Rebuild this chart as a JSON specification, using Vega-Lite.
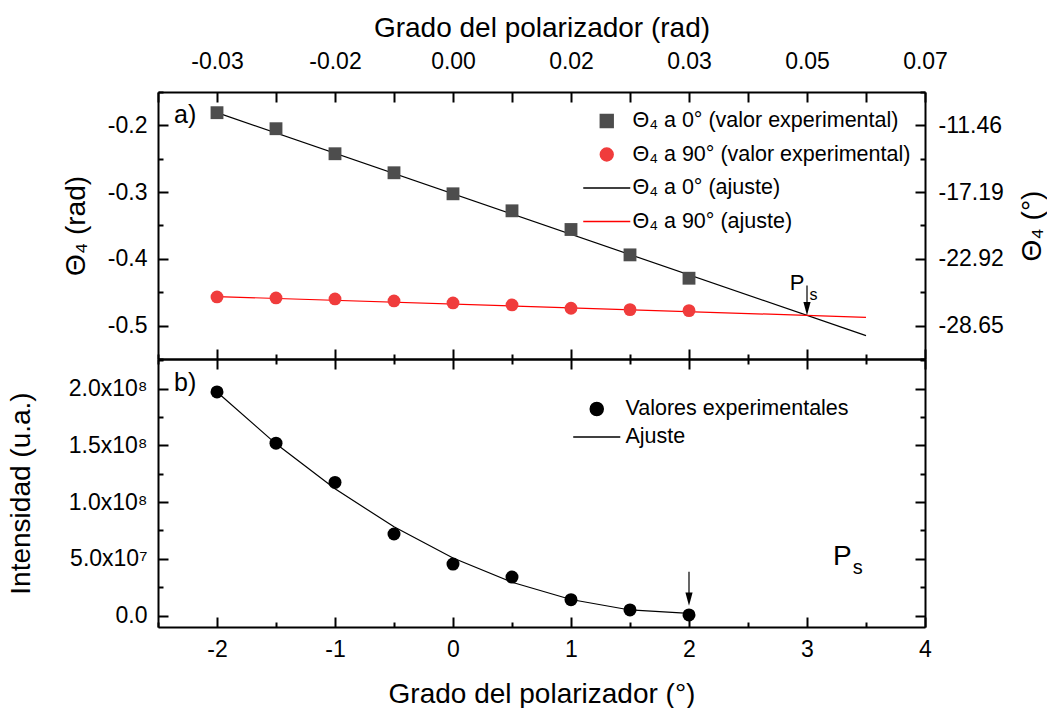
{
  "$schema": "https://vega.github.io/schema/vega-lite/v6.json",
  "background": "white",
  "padding": {"left": 7, "top": 14, "right": 0, "bottom": 0},
  "spacing": 0,
  "bounds": "flush",
  "config": {
    "font": "Liberation Sans",
    "view": {"stroke": null},
    "axis": {
      "grid": false,
      "domainColor": "black",
      "domainWidth": 2,
      "tickColor": "black",
      "tickWidth": 2,
      "labelFont": "Liberation Sans",
      "labelFontSize": 23,
      "labelColor": "black",
      "labelFlush": false,
      "labelOverlap": false,
      "titleFont": "Liberation Sans",
      "titleFontSize": 28,
      "titleFontWeight": "normal",
      "titleColor": "black"
    },
    "legend": {
      "labelFont": "Liberation Sans",
      "labelFontSize": 21.5,
      "labelColor": "black",
      "labelLimit": 500,
      "padding": 0
    }
  },
  "datasets": {
    "theta_exp": [
      {"grado": -2.0, "theta": -0.181, "serie": "Θ₄ a 0° (valor experimental)"},
      {"grado": -1.5, "theta": -0.205, "serie": "Θ₄ a 0° (valor experimental)"},
      {"grado": -1.0, "theta": -0.2425, "serie": "Θ₄ a 0° (valor experimental)"},
      {"grado": -0.5, "theta": -0.271, "serie": "Θ₄ a 0° (valor experimental)"},
      {"grado": 0.0, "theta": -0.3025, "serie": "Θ₄ a 0° (valor experimental)"},
      {"grado": 0.5, "theta": -0.328, "serie": "Θ₄ a 0° (valor experimental)"},
      {"grado": 1.0, "theta": -0.356, "serie": "Θ₄ a 0° (valor experimental)"},
      {"grado": 1.5, "theta": -0.394, "serie": "Θ₄ a 0° (valor experimental)"},
      {"grado": 2.0, "theta": -0.429, "serie": "Θ₄ a 0° (valor experimental)"},
      {"grado": -2.0, "theta": -0.457, "serie": "Θ₄ a 90° (valor experimental)"},
      {"grado": -1.5, "theta": -0.4585, "serie": "Θ₄ a 90° (valor experimental)"},
      {"grado": -1.0, "theta": -0.46, "serie": "Θ₄ a 90° (valor experimental)"},
      {"grado": -0.5, "theta": -0.463, "serie": "Θ₄ a 90° (valor experimental)"},
      {"grado": 0.0, "theta": -0.466, "serie": "Θ₄ a 90° (valor experimental)"},
      {"grado": 0.5, "theta": -0.469, "serie": "Θ₄ a 90° (valor experimental)"},
      {"grado": 1.0, "theta": -0.474, "serie": "Θ₄ a 90° (valor experimental)"},
      {"grado": 1.5, "theta": -0.476, "serie": "Θ₄ a 90° (valor experimental)"},
      {"grado": 2.0, "theta": -0.4775, "serie": "Θ₄ a 90° (valor experimental)"}
    ],
    "theta_fit": [
      {"grado": -2.0, "theta": -0.181, "serie": "Θ₄ a 0° (ajuste)"},
      {"grado": 3.5, "theta": -0.515, "serie": "Θ₄ a 0° (ajuste)"},
      {"grado": -2.0, "theta": -0.4565, "serie": "Θ₄ a 90° (ajuste)"},
      {"grado": 3.5, "theta": -0.4875, "serie": "Θ₄ a 90° (ajuste)"}
    ],
    "intensidad": [
      {"grado": -2.0, "valor": 197000000, "serie": "Valores experimentales"},
      {"grado": -1.5, "valor": 151900000, "serie": "Valores experimentales"},
      {"grado": -1.0, "valor": 117300000, "serie": "Valores experimentales"},
      {"grado": -0.5, "valor": 71900000, "serie": "Valores experimentales"},
      {"grado": 0.0, "valor": 45400000, "serie": "Valores experimentales"},
      {"grado": 0.5, "valor": 34000000, "serie": "Valores experimentales"},
      {"grado": 1.0, "valor": 14100000, "serie": "Valores experimentales"},
      {"grado": 1.5, "valor": 5000000, "serie": "Valores experimentales"},
      {"grado": 2.0, "valor": 600000, "serie": "Valores experimentales"}
    ],
    "intensidad_fit": [
      {"grado": -2.0, "valor": 197000000, "serie": "Ajuste"},
      {"grado": -1.5, "valor": 151300000, "serie": "Ajuste"},
      {"grado": -1.0, "valor": 111700000, "serie": "Ajuste"},
      {"grado": -0.5, "valor": 78200000, "serie": "Ajuste"},
      {"grado": 0.0, "valor": 50800000, "serie": "Ajuste"},
      {"grado": 0.5, "valor": 29400000, "serie": "Ajuste"},
      {"grado": 1.0, "valor": 14200000, "serie": "Ajuste"},
      {"grado": 1.5, "valor": 5000000, "serie": "Ajuste"},
      {"grado": 2.0, "valor": 2000000, "serie": "Ajuste"}
    ]
  },
  "resolve": {"scale": {"x": "independent", "y": "independent", "color": "independent", "shape": "independent"}},
  "vconcat": [
    {
      "width": 767,
      "height": 267,
      "resolve": {"axis": {"x": "independent", "y": "independent"}},
      "layer": [
        {
          "data": {"name": "theta_fit"},
          "mark": {"type": "line", "strokeWidth": 1.2},
          "encoding": {
            "x": {
              "field": "grado", "type": "quantitative",
              "scale": {"domain": [-2.5, 4], "nice": false, "zero": false},
              "axis": {
                "orient": "bottom", "title": null, "labels": false,
                "values": [-2.5, -2, -1.5, -1, -0.5, 0, 0.5, 1, 1.5, 2, 2.5, 3, 3.5, 4],
                "tickSize": {"condition": {"test": "datum.value % 1 === 0", "value": -10}, "value": -5}
              }
            },
            "y": {
              "field": "theta", "type": "quantitative",
              "scale": {"domain": [-0.55, -0.15], "nice": false, "zero": false},
              "axis": {
                "orient": "left", "title": "Θ₄ (rad)", "titlePadding": 17,
                "values": [-0.55, -0.5, -0.45, -0.4, -0.35, -0.3, -0.25, -0.2, -0.15],
                "labelPadding": 21,
                "labelExpr": "round(datum.value * 100) % 10 === 0 ? (datum.value < 0 ? '-' : '') + format(abs(datum.value), '.1f') : ''",
                "tickSize": {"condition": {"test": "round(datum.value * 100) % 10 === 0", "value": -10}, "value": -5}
              }
            },
            "color": {
              "field": "serie", "type": "nominal",
              "scale": {
                "domain": ["Θ₄ a 0° (valor experimental)", "Θ₄ a 90° (valor experimental)", "Θ₄ a 0° (ajuste)", "Θ₄ a 90° (ajuste)"],
                "range": ["#4d4d4d", "#f03c3c", "#000000", "#ff0000"]
              }
            }
          }
        },
        {
          "data": {"name": "theta_exp"},
          "mark": {"type": "point", "filled": true, "opacity": 1, "size": 165},
          "encoding": {
            "x": {
              "field": "grado", "type": "quantitative",
              "scale": {"domain": [-2.5, 4], "nice": false, "zero": false},
              "axis": {
                "orient": "top", "title": "Grado del polarizador (rad)", "titlePadding": 8,
                "values": [-2.5, -2, -1.5, -1, -0.5, 0, 0.5, 1, 1.5, 2, 2.5, 3, 3.5, 4],
                "labelPadding": 29,
                "labelExpr": "datum.value % 1 === 0 ? (datum.value < 0 ? '-' : '') + format(abs(datum.value * PI / 180), '.2f') : ''",
                "tickSize": -10
              }
            },
            "y": {
              "field": "theta", "type": "quantitative",
              "scale": {"domain": [-0.55, -0.15], "nice": false, "zero": false},
              "axis": {
                "orient": "right", "title": "Θ₄ (°)", "titlePadding": 15, "titleAngle": 270, "titleBaseline": "top",
                "values": [-0.55, -0.5, -0.45, -0.4, -0.35, -0.3, -0.25, -0.2, -0.15],
                "labelPadding": 23,
                "labelExpr": "round(datum.value * 100) % 10 === 0 ? (datum.value < 0 ? '-' : '') + format(abs(datum.value * 180 / PI), '.2f') : ''",
                "tickSize": {"condition": {"test": "round(datum.value * 100) % 10 === 0", "value": -10}, "value": -5}
              }
            },
            "color": {
              "field": "serie", "type": "nominal",
              "scale": {
                "domain": ["Θ₄ a 0° (valor experimental)", "Θ₄ a 90° (valor experimental)", "Θ₄ a 0° (ajuste)", "Θ₄ a 90° (ajuste)"],
                "range": ["#4d4d4d", "#f03c3c", "#000000", "#ff0000"]
              },
              "legend": {
                "title": null, "orient": "none", "legendX": 423, "legendY": 18,
                "symbolSize": 165, "symbolOffset": 15, "clipHeight": 22, "rowPadding": 11.5, "labelOffset": 15,
                "encode": {
                  "symbols": {
                    "update": {
                      "stroke": [{"test": "datum.value === 'Θ₄ a 90° (ajuste)'", "value": "#ff0000"}, {"value": "#000000"}],
                      "strokeWidth": [{"test": "indexof(datum.value, 'ajuste') >= 0", "value": 1.2}, {"value": 0}],
                      "opacity": {"value": 1}
                    }
                  }
                }
              }
            },
            "shape": {
              "field": "serie", "type": "nominal",
              "scale": {
                "domain": ["Θ₄ a 0° (valor experimental)", "Θ₄ a 90° (valor experimental)", "Θ₄ a 0° (ajuste)", "Θ₄ a 90° (ajuste)"],
                "range": ["square", "circle", "M-3.66,0L3.66,0", "M-3.66,0L3.66,0"]
              },
              "legend": {
                "title": null, "orient": "none", "legendX": 423, "legendY": 18,
                "symbolSize": 165, "symbolOffset": 15, "clipHeight": 22, "rowPadding": 11.5, "labelOffset": 15,
                "encode": {
                  "symbols": {
                    "update": {
                      "stroke": [{"test": "datum.value === 'Θ₄ a 90° (ajuste)'", "value": "#ff0000"}, {"value": "#000000"}],
                      "strokeWidth": [{"test": "indexof(datum.value, 'ajuste') >= 0", "value": 1.2}, {"value": 0}],
                      "opacity": {"value": 1}
                    }
                  }
                }
              }
            }
          }
        },
        {
          "data": {"values": [{"grado": 3, "desde": -0.44, "hasta": -0.47}]},
          "mark": {"type": "rule", "color": "black", "strokeWidth": 1.2},
          "encoding": {
            "x": {"field": "grado", "type": "quantitative", "axis": null},
            "y": {"field": "desde", "type": "quantitative", "axis": null},
            "y2": {"field": "hasta"}
          }
        },
        {
          "data": {"values": [{"grado": 3, "theta": -0.4845}]},
          "mark": {"type": "point", "filled": true, "opacity": 1, "color": "black", "size": 144, "shape": "M-0.6,-2.2L0.6,-2.2L0,0Z"},
          "encoding": {
            "x": {"field": "grado", "type": "quantitative", "axis": null},
            "y": {"field": "theta", "type": "quantitative", "axis": null}
          }
        },
        {
          "data": {"values": [{"grado": -2.27, "theta": -0.184, "texto": "a)"}]},
          "mark": {"type": "text", "fontSize": 25, "color": "black", "align": "center", "baseline": "middle"},
          "encoding": {
            "x": {"field": "grado", "type": "quantitative", "axis": null},
            "y": {"field": "theta", "type": "quantitative", "axis": null},
            "text": {"field": "texto"}
          }
        },
        {
          "data": {"values": [{"grado": 2.915, "theta": -0.4367, "texto": "P"}]},
          "mark": {"type": "text", "fontSize": 22, "color": "black", "align": "center", "baseline": "middle"},
          "encoding": {
            "x": {"field": "grado", "type": "quantitative", "axis": null},
            "y": {"field": "theta", "type": "quantitative", "axis": null},
            "text": {"field": "texto"}
          }
        },
        {
          "data": {"values": [{"grado": 3.055, "theta": -0.454, "texto": "s"}]},
          "mark": {"type": "text", "fontSize": 16, "color": "black", "align": "center", "baseline": "middle"},
          "encoding": {
            "x": {"field": "grado", "type": "quantitative", "axis": null},
            "y": {"field": "theta", "type": "quantitative", "axis": null},
            "text": {"field": "texto"}
          }
        }
      ]
    },
    {
      "width": 767,
      "height": 268,
      "resolve": {"axis": {"x": "independent", "y": "independent"}},
      "layer": [
        {
          "data": {"name": "intensidad_fit"},
          "mark": {"type": "line", "strokeWidth": 1.2},
          "encoding": {
            "x": {
              "field": "grado", "type": "quantitative",
              "scale": {"domain": [-2.5, 4], "nice": false, "zero": false},
              "axis": {
                "orient": "top", "title": null, "labels": false,
                "values": [-2.5, -2, -1.5, -1, -0.5, 0, 0.5, 1, 1.5, 2, 2.5, 3, 3.5, 4],
                "tickSize": {"condition": {"test": "datum.value % 1 === 0", "value": -10}, "value": -5}
              }
            },
            "y": {
              "field": "valor", "type": "quantitative",
              "scale": {"domain": [-10000000, 226000000], "nice": false, "zero": false},
              "axis": {
                "orient": "right", "title": null, "labels": false,
                "values": [0, 25000000, 50000000, 75000000, 100000000, 125000000, 150000000, 175000000, 200000000, 225000000],
                "tickSize": {"condition": {"test": "datum.value % 50000000 === 0", "value": -10}, "value": -5}
              }
            },
            "color": {
              "field": "serie", "type": "nominal",
              "scale": {"domain": ["Valores experimentales", "Ajuste"], "range": ["#000000", "#000000"]}
            }
          }
        },
        {
          "data": {"name": "intensidad"},
          "mark": {"type": "point", "filled": true, "opacity": 1, "size": 169},
          "encoding": {
            "x": {
              "field": "grado", "type": "quantitative",
              "scale": {"domain": [-2.5, 4], "nice": false, "zero": false},
              "axis": {
                "orient": "bottom", "title": "Grado del polarizador (°)", "titlePadding": 14,
                "values": [-2.5, -2, -1.5, -1, -0.5, 0, 0.5, 1, 1.5, 2, 2.5, 3, 3.5, 4],
                "labelPadding": 21,
                "labelExpr": "datum.value % 1 === 0 ? (datum.value < 0 ? '-' : '') + format(abs(datum.value), 'd') : ''",
                "tickSize": {"condition": {"test": "datum.value % 1 === 0", "value": -10}, "value": -5}
              }
            },
            "y": {
              "field": "valor", "type": "quantitative",
              "scale": {"domain": [-10000000, 226000000], "nice": false, "zero": false},
              "axis": {
                "orient": "left", "title": "Intensidad (u.a.)", "titlePadding": 33,
                "values": [0, 25000000, 50000000, 75000000, 100000000, 125000000, 150000000, 175000000, 200000000, 225000000],
                "labelPadding": 21,
                "labelExpr": "datum.value === 0 ? '0.0' : (datum.value % 50000000 === 0 ? format(datum.value / pow(10, floor(log(datum.value) / LN10 + 1e-9)), '.1f') + 'x10' + ['⁰','¹','²','³','⁴','⁵','⁶','⁷','⁸','⁹'][floor(log(datum.value) / LN10 + 1e-9)] : '')",
                "tickSize": {"condition": {"test": "datum.value % 50000000 === 0", "value": -10}, "value": -5}
              }
            },
            "color": {
              "field": "serie", "type": "nominal",
              "scale": {"domain": ["Valores experimentales", "Ajuste"], "range": ["#000000", "#000000"]},
              "legend": {
                "title": null, "orient": "none", "legendX": 413, "legendY": 39,
                "symbolSize": 169, "symbolOffset": 15, "clipHeight": 22, "rowPadding": 6, "labelOffset": 18,
                "encode": {
                  "symbols": {
                    "update": {
                      "stroke": {"value": "#000000"},
                      "strokeWidth": [{"test": "datum.value === 'Ajuste'", "value": 1.2}, {"value": 0}],
                      "opacity": {"value": 1}
                    }
                  }
                }
              }
            },
            "shape": {
              "field": "serie", "type": "nominal",
              "scale": {"domain": ["Valores experimentales", "Ajuste"], "range": ["circle", "M-3.62,0L3.62,0"]},
              "legend": {
                "title": null, "orient": "none", "legendX": 413, "legendY": 39,
                "symbolSize": 169, "symbolOffset": 15, "clipHeight": 22, "rowPadding": 6, "labelOffset": 18,
                "encode": {
                  "symbols": {
                    "update": {
                      "stroke": {"value": "#000000"},
                      "strokeWidth": [{"test": "datum.value === 'Ajuste'", "value": 1.2}, {"value": 0}],
                      "opacity": {"value": 1}
                    }
                  }
                }
              }
            }
          }
        },
        {
          "data": {"values": [{"grado": 2, "desde": 38700000, "hasta": 18000000}]},
          "mark": {"type": "rule", "color": "black", "strokeWidth": 1.2},
          "encoding": {
            "x": {"field": "grado", "type": "quantitative", "axis": null},
            "y": {"field": "desde", "type": "quantitative", "axis": null},
            "y2": {"field": "hasta"}
          }
        },
        {
          "data": {"values": [{"grado": 2, "valor": 8800000}]},
          "mark": {"type": "point", "filled": true, "opacity": 1, "color": "black", "size": 144, "shape": "M-0.6,-2.2L0.6,-2.2L0,0Z"},
          "encoding": {
            "x": {"field": "grado", "type": "quantitative", "axis": null},
            "y": {"field": "valor", "type": "quantitative", "axis": null}
          }
        },
        {
          "data": {"values": [{"grado": -2.27, "valor": 204600000, "texto": "b)"}]},
          "mark": {"type": "text", "fontSize": 25, "color": "black", "align": "center", "baseline": "middle"},
          "encoding": {
            "x": {"field": "grado", "type": "quantitative", "axis": null},
            "y": {"field": "valor", "type": "quantitative", "axis": null},
            "text": {"field": "texto"}
          }
        },
        {
          "data": {"values": [{"grado": 3.3, "valor": 51600000, "texto": "P"}]},
          "mark": {"type": "text", "fontSize": 28, "color": "black", "align": "center", "baseline": "middle"},
          "encoding": {
            "x": {"field": "grado", "type": "quantitative", "axis": null},
            "y": {"field": "valor", "type": "quantitative", "axis": null},
            "text": {"field": "texto"}
          }
        },
        {
          "data": {"values": [{"grado": 3.43, "valor": 41900000, "texto": "s"}]},
          "mark": {"type": "text", "fontSize": 20, "color": "black", "align": "center", "baseline": "middle"},
          "encoding": {
            "x": {"field": "grado", "type": "quantitative", "axis": null},
            "y": {"field": "valor", "type": "quantitative", "axis": null},
            "text": {"field": "texto"}
          }
        }
      ]
    }
  ]
}
